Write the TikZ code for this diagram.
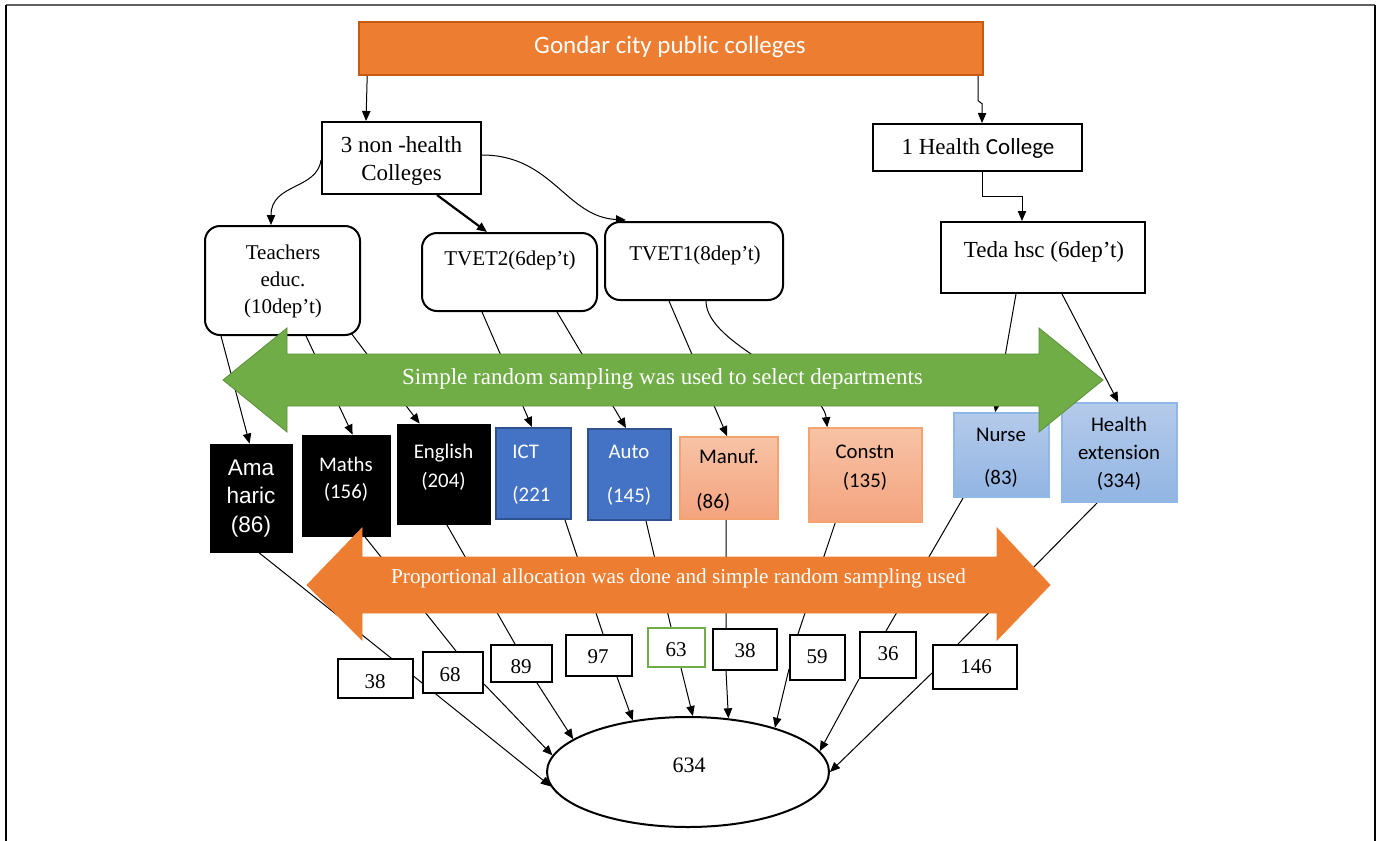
\documentclass[tikz,border=0pt]{standalone}
\usepackage{fontspec}
\setmainfont{Liberation Serif}
\newfontfamily\calib{Carlito}
\newfontfamily\arialf{Liberation Sans}
\usetikzlibrary{arrows.meta,shapes.geometric}
\pgfdeclarelayer{bg}
\pgfdeclarelayer{fg}
\pgfsetlayers{bg,main,fg}
\definecolor{orF}{HTML}{ED7D31}
\definecolor{orD}{HTML}{C55A11}
\definecolor{grF}{HTML}{70AD47}
\definecolor{grD}{HTML}{5B8E3A}
\definecolor{blF}{HTML}{4472C4}
\definecolor{blD}{HTML}{2F528F}
\definecolor{saT}{HTML}{F7C3A6}
\definecolor{saB}{HTML}{F4A37E}
\definecolor{saD}{HTML}{F5A36E}
\definecolor{lbT}{HTML}{B4CAEA}
\definecolor{lbB}{HTML}{92B5E3}
\definecolor{lbD}{HTML}{8FB8E8}
\definecolor{frameG}{HTML}{606060}
\tikzset{
  conn/.style={line width=0.5pt, draw=black},
  arr/.style={conn, -{Triangle[length=5pt,width=4.2pt]}},
  wbox/.style={draw=black, line width=1pt, fill=white, inner sep=0pt},
  rbox/.style={wbox, rounded corners=7.5pt},
  blk/.style={draw=black, fill=black, inner sep=0pt},
  bbox/.style={draw=blD, line width=1pt, fill=blF, inner sep=0pt},
  sbox/.style={draw=saD, line width=0.8pt, top color=saT, bottom color=saB, inner sep=0pt},
  lbox/.style={draw=lbD, line width=0.8pt, top color=lbT, bottom color=lbB, inner sep=0pt},
  ser/.style={anchor=base, inner sep=0pt, font=\fontsize{11.5}{13.8}\selectfont},
  sers/.style={anchor=base, inner sep=0pt, font=\fontsize{10.5}{12.6}\selectfont},
  cal/.style={anchor=base, inner sep=0pt, font=\calib\fontsize{10.4}{12.5}\selectfont},
  cnt/.style={anchor=base, inner sep=0pt, font=\fontsize{10.5}{12.6}\selectfont},
}
\begin{document}
\begin{tikzpicture}[x=0.5pt,y=-0.5pt]
\useasboundingbox (0,0) rectangle (1377,841);
% frame
\draw[frameG, line width=1pt] (6,5) -- (1375,5);
\draw[black, line width=1.2pt] (6,5) -- (6,841);
\draw[black, line width=1.2pt] (1375,5) -- (1375,841);

% top level
\node[draw=orD, line width=0.8pt, fill=orF, inner sep=0pt, minimum width=312pt, minimum height=26.5pt] (top) at (671,48.5) {};
\node[anchor=base, inner sep=0pt, text=white, font=\calib\fontsize{12.5}{15}\selectfont] (top-t) at (670,53) {Gondar city public colleges};

\node[wbox, minimum width=79.5pt, minimum height=36pt] (nh) at (401.5,158) {};
\node[ser] (nh-t1) at (401.5,152) {3 non -health};
\node[ser] (nh-t2) at (401.5,180) {Colleges};

\node[wbox, minimum width=104.5pt, minimum height=23.5pt] (hc) at (977.5,147.5) {};
\node[ser] (hc-t) at (978,154) {1 Health {\calib College}};

\node[rbox, minimum width=77.5pt, minimum height=54.5pt] (te) at (282.5,280.5) {};
\node[sers] (te-t1) at (283,259) {Teachers};
\node[sers] (te-t2) at (283,286) {educ.};
\node[sers] (te-t3) at (283,313) {(10dep’t)};

\node[rbox, minimum width=87.5pt, minimum height=39pt] (t2) at (509.5,272) {};
\node[sers] (t2-t) at (510,265) {TVET2(6dep’t)};

\node[rbox, minimum width=89pt, minimum height=39pt] (t1) at (694,261) {};
\node[sers] (t1-t) at (695,260) {TVET1(8dep’t)};

\node[wbox, minimum width=102pt, minimum height=35.5pt] (td) at (1043,257.5) {};
\node[ser] (td-t) at (1044,257) {Teda hsc (6dep’t)};

% departments
\node[blk, minimum width=41pt, minimum height=54pt] (am) at (251,498) {};
\node[anchor=base, inner sep=0pt, text=white, font=\arialf\fontsize{11.3}{13}\selectfont] (am-t1) at (251,475) {Ama};
\node[anchor=base, inner sep=0pt, text=white, font=\arialf\fontsize{11.3}{13}\selectfont] (am-t2) at (251,503) {haric};
\node[anchor=base, inner sep=0pt, text=white, font=\arialf\fontsize{11.3}{13}\selectfont] (am-t3) at (251,532) {(86)};

\node[blk, minimum width=44pt, minimum height=50.5pt] (ma) at (346,485.5) {};
\node[cal, text=white] (ma-t1) at (346,471) {Maths};
\node[cal, text=white] (ma-t2) at (346,498) {(156)};

\node[blk, minimum width=46.5pt, minimum height=50pt] (en) at (443.5,474) {};
\node[cal, text=white] (en-t1) at (443.5,458) {English};
\node[cal, text=white] (en-t2) at (443.5,487) {(204)};

\node[bbox, minimum width=37.5pt, minimum height=45.5pt] (ict) at (533.5,473.5) {};
\node[cal, text=white, anchor=base west] (ict-t1) at (512,458) {ICT};
\node[cal, text=white, anchor=base west] (ict-t2) at (512,501) {(221};

\node[bbox, minimum width=41.5pt, minimum height=45.5pt] (au) at (629.5,474.5) {};
\node[cal, text=white] (au-t1) at (629,458) {Auto};
\node[cal, text=white] (au-t2) at (629,502) {(145)};

\node[sbox, minimum width=49pt, minimum height=41pt] (mf) at (729,478) {};
\node[cal] (mf-t1) at (729,463) {Manuf.};
\node[cal, anchor=base west] (mf-t2) at (696,508) {(86)};

\node[sbox, minimum width=56.5pt, minimum height=47pt] (cn) at (865.5,475) {};
\node[cal] (cn-t1) at (865,458) {Constn};
\node[cal] (cn-t2) at (865,487) {(135)};

\node[lbox, minimum width=47.5pt, minimum height=42pt] (nu) at (1001.5,455) {};
\node[cal] (nu-t1) at (1001,441) {Nurse};
\node[cal] (nu-t2) at (1001,484) {(83)};

\node[lbox, minimum width=57.5pt, minimum height=49.5pt] (he) at (1119.5,452.5) {};
\node[cal] (he-t1) at (1119,431) {Health};
\node[cal] (he-t2) at (1119,459) {extension};
\node[cal] (he-t3) at (1119,487) {(334)};

% counts
\node[wbox, minimum width=37.5pt, minimum height=19.5pt] (c1) at (375.5,678.5) {};
\node[cnt] (c1-t) at (375,688) {38};
\node[wbox, minimum width=30pt, minimum height=20.5pt] (c2) at (453,672.5) {};
\node[cnt] (c2-t) at (450,681) {68};
\node[wbox, minimum width=30.5pt, minimum height=18.5pt] (c3) at (521.5,663.5) {};
\node[cnt] (c3-t) at (521,673) {89};
\node[wbox, minimum width=33pt, minimum height=20.5pt] (c4) at (599,655.5) {};
\node[cnt] (c4-t) at (598,663) {97};
\node[wbox, draw=grF, minimum width=28.5pt, minimum height=19.5pt] (c5) at (676.5,647.5) {};
\node[cnt] (c5-t) at (676,656) {63};
\node[wbox, minimum width=32pt, minimum height=20.5pt] (c6) at (745,649.5) {};
\node[cnt] (c6-t) at (745,657) {38};
\node[wbox, minimum width=27.5pt, minimum height=22.5pt] (c7) at (817.5,657.5) {};
\node[cnt] (c7-t) at (817,663) {59};
\node[wbox, minimum width=28pt, minimum height=23pt] (c8) at (888,655) {};
\node[cnt] (c8-t) at (888,660) {36};
\node[wbox, minimum width=42pt, minimum height=22pt] (c9) at (975,667) {};
\node[cnt] (c9-t) at (976,673) {146};

\node[draw=black, line width=1pt, fill=white, ellipse, inner sep=0pt, minimum width=141pt, minimum height=55pt] (ell) at (688,772) {};
\node[anchor=base, inner sep=0pt, font=\fontsize{11}{13}\selectfont] (ell-t) at (689,772) {634};

\begin{pgfonlayer}{bg}
\draw[arr] ([shift={(9,0)}]top.south west) -- ([shift={(45,0)}]nh.north west);
\draw[arr] ([shift={(620,0)}]top.south west) -- ++(0,25) -- ++(4,3) -- ([shift={(110,0)}]hc.north west);
\draw[arr] ([shift={(110,0)}]hc.south west) -- ++(0,24) -| ([shift={(82,0)}]td.north west);
\draw[arr] ([shift={(0,2)}]nh.west) .. controls +(-4,30) and +(0,-42) .. ([shift={(67,0)}]te.north west);
\draw[arr, line width=1.1pt] ([shift={(116,0)}]nh.south west) -- ([shift={(66,0)}]t2.north west);
\draw[arr] ([shift={(0,-3)}]nh.east) .. controls +(70,0) and +(-60,-3) .. ([shift={(22,-1)}]t1.north west);
\draw[arr] ([shift={(17,0)}]te.south west) -- ([shift={(40,0)}]am.north west);
\draw[arr] ([shift={(102,0)}]te.south west) -- ([shift={(51,0)}]ma.north west);
\draw[arr] ([shift={(147,-3)}]te.south west) -- ([shift={(23,0)}]en.north west);
\draw[arr] ([shift={(61,0)}]t2.south west) -- ([shift={(37,0)}]ict.north west);
\draw[arr] ([shift={(136,0)}]t2.south west) -- ([shift={(39,0)}]au.north west);
\draw[arr] ([shift={(65,0)}]t1.south west) -- ([shift={(48,0)}]mf.north west);
\draw[arr] ([shift={(102,0)}]t1.south west) .. controls +(0,45) and +(-5,-45) .. ([shift={(19,0)}]cn.north west);
\draw[arr] ([shift={(76,0)}]td.south west) -- ([shift={(42,0)}]nu.north west);
\draw[arr] ([shift={(122,0)}]td.south west) -- ([shift={(57,0)}]he.north west);
% departments to counts
\draw[conn] ([shift={(49,0)}]am.south west) -- ([shift={(54,0)}]c1.north west);
\draw[conn] ([shift={(63,0)}]ma.south west) -- ([shift={(34,0)}]c2.north west);
\draw[conn] ([shift={(50,0)}]en.south west) -- ([shift={(25,0)}]c3.north west);
\draw[conn] ([shift={(70,0)}]ict.south west) -- ([shift={(38,0)}]c4.north west);
\draw[conn] ([shift={(59,0)}]au.south west) -- ([shift={(24,0)}]c5.north west);
\draw[conn] ([shift={(47,0)}]mf.south west) -- ([shift={(14,0)}]c6.north west);
\draw[conn] ([shift={(27,0)}]cn.south west) -- ([shift={(9,0)}]c7.north west);
\draw[conn] ([shift={(10,0)}]nu.south west) -- ([shift={(27,0)}]c8.north west);
\draw[conn] ([shift={(36,0)}]he.south west) -- ([shift={(26,0)}]c9.north west);
% counts to total
\draw[arr] ([shift={(54,0)}]c1.north west) -- (ell.186.8);
\draw[arr] ([shift={(0,-10)}]c2.south east) -- (ell.173.9);
\draw[arr] ([shift={(47,0)}]c3.south west) -- (ell.164.8);
\draw[arr] ([shift={(52,0)}]c4.south west) -- (ell.137.7);
\draw[arr] ([shift={(34,0)}]c5.south west) -- (ell.85.9);
\draw[arr] ([shift={(14,0)}]c6.south west) -- (ell.53.6);
\draw[arr] ([shift={(0,-12)}]c7.south west) -- (ell.27.9);
\draw[arr] (c8.south west) -- (ell.9.5);
\draw[arr] ([shift={(0,-17)}]c9.south west) -- (ell.0);
\end{pgfonlayer}

\begin{pgfonlayer}{fg}
\filldraw[fill=grF, draw=grD, line width=0.4pt] (223,380) -- (287,328) -- (287,354) -- (1039,354) -- (1039,328) -- (1103,380) -- (1039,432) -- (1039,406) -- (287,406) -- (287,432) -- cycle;
\node[anchor=base, inner sep=0pt, text=white, font=\fontsize{11.5}{13.8}\selectfont] (srs) at (662.5,384) {Simple random sampling was used to select departments};
\filldraw[fill=orF, draw=orF, line width=0.4pt] (307,585) -- (362,528) -- (362,557) -- (997,557) -- (997,528) -- (1050,585) -- (997,640) -- (997,613) -- (362,613) -- (362,640) -- cycle;
\node[anchor=base, inner sep=0pt, text=white, font=\fontsize{10.6}{12.7}\selectfont] (pa) at (678.5,583) {Proportional allocation was done and simple random sampling used};
\end{pgfonlayer}
\end{tikzpicture}
\end{document}
